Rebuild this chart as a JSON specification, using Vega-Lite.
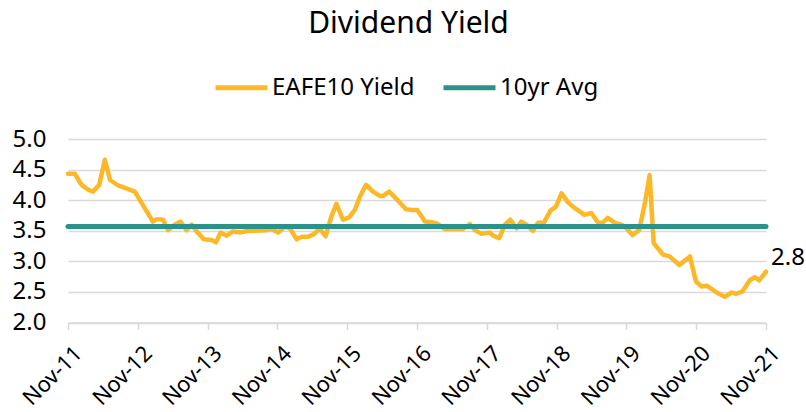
{
  "$schema": "https://vega.github.io/schema/vega-lite/v6.json",
  "width": 698,
  "height": 183.5,
  "autosize": {"type": "none"},
  "padding": {"left": 68, "top": 139, "right": 40, "bottom": 89.5},
  "background": "white",
  "title": {
    "text": "Dividend Yield",
    "fontSize": 30,
    "fontWeight": "normal",
    "font": "Noto Sans",
    "color": "#000000",
    "anchor": "middle",
    "frame": "bounds",
    "offset": 20
  },
  "config": {
    "font": "Noto Sans",
    "view": {"stroke": null},
    "axis": {"labelFont": "Noto Sans", "labelColor": "#000000", "title": null}
  },
  "datasets": {
    "series": [
      {"date": "2011-11-01", "value": 4.43, "s": "EAFE10 Yield"},
      {"date": "2011-12-07", "value": 4.43, "s": "EAFE10 Yield"},
      {"date": "2012-01-11", "value": 4.25, "s": "EAFE10 Yield"},
      {"date": "2012-02-15", "value": 4.17, "s": "EAFE10 Yield"},
      {"date": "2012-03-11", "value": 4.14, "s": "EAFE10 Yield"},
      {"date": "2012-04-12", "value": 4.25, "s": "EAFE10 Yield"},
      {"date": "2012-05-12", "value": 4.66, "s": "EAFE10 Yield"},
      {"date": "2012-06-08", "value": 4.33, "s": "EAFE10 Yield"},
      {"date": "2012-07-20", "value": 4.24, "s": "EAFE10 Yield"},
      {"date": "2012-10-16", "value": 4.14, "s": "EAFE10 Yield"},
      {"date": "2012-11-21", "value": 3.95, "s": "EAFE10 Yield"},
      {"date": "2013-01-18", "value": 3.65, "s": "EAFE10 Yield"},
      {"date": "2013-02-08", "value": 3.69, "s": "EAFE10 Yield"},
      {"date": "2013-03-12", "value": 3.68, "s": "EAFE10 Yield"},
      {"date": "2013-04-08", "value": 3.51, "s": "EAFE10 Yield"},
      {"date": "2013-05-12", "value": 3.6, "s": "EAFE10 Yield"},
      {"date": "2013-06-12", "value": 3.65, "s": "EAFE10 Yield"},
      {"date": "2013-07-13", "value": 3.51, "s": "EAFE10 Yield"},
      {"date": "2013-08-09", "value": 3.6, "s": "EAFE10 Yield"},
      {"date": "2013-09-04", "value": 3.49, "s": "EAFE10 Yield"},
      {"date": "2013-10-12", "value": 3.36, "s": "EAFE10 Yield"},
      {"date": "2013-11-22", "value": 3.35, "s": "EAFE10 Yield"},
      {"date": "2013-12-14", "value": 3.31, "s": "EAFE10 Yield"},
      {"date": "2014-01-08", "value": 3.47, "s": "EAFE10 Yield"},
      {"date": "2014-02-09", "value": 3.42, "s": "EAFE10 Yield"},
      {"date": "2014-03-13", "value": 3.49, "s": "EAFE10 Yield"},
      {"date": "2014-04-18", "value": 3.47, "s": "EAFE10 Yield"},
      {"date": "2014-06-01", "value": 3.5, "s": "EAFE10 Yield"},
      {"date": "2014-07-14", "value": 3.5, "s": "EAFE10 Yield"},
      {"date": "2014-09-05", "value": 3.51, "s": "EAFE10 Yield"},
      {"date": "2014-10-01", "value": 3.53, "s": "EAFE10 Yield"},
      {"date": "2014-11-05", "value": 3.47, "s": "EAFE10 Yield"},
      {"date": "2014-12-10", "value": 3.57, "s": "EAFE10 Yield"},
      {"date": "2015-01-05", "value": 3.54, "s": "EAFE10 Yield"},
      {"date": "2015-02-10", "value": 3.36, "s": "EAFE10 Yield"},
      {"date": "2015-03-06", "value": 3.4, "s": "EAFE10 Yield"},
      {"date": "2015-04-10", "value": 3.4, "s": "EAFE10 Yield"},
      {"date": "2015-05-14", "value": 3.45, "s": "EAFE10 Yield"},
      {"date": "2015-06-10", "value": 3.54, "s": "EAFE10 Yield"},
      {"date": "2015-07-11", "value": 3.41, "s": "EAFE10 Yield"},
      {"date": "2015-08-10", "value": 3.73, "s": "EAFE10 Yield"},
      {"date": "2015-09-06", "value": 3.94, "s": "EAFE10 Yield"},
      {"date": "2015-10-10", "value": 3.68, "s": "EAFE10 Yield"},
      {"date": "2015-11-11", "value": 3.72, "s": "EAFE10 Yield"},
      {"date": "2015-12-11", "value": 3.84, "s": "EAFE10 Yield"},
      {"date": "2016-01-07", "value": 4.06, "s": "EAFE10 Yield"},
      {"date": "2016-02-08", "value": 4.25, "s": "EAFE10 Yield"},
      {"date": "2016-03-15", "value": 4.14, "s": "EAFE10 Yield"},
      {"date": "2016-04-20", "value": 4.07, "s": "EAFE10 Yield"},
      {"date": "2016-05-07", "value": 4.07, "s": "EAFE10 Yield"},
      {"date": "2016-06-08", "value": 4.14, "s": "EAFE10 Yield"},
      {"date": "2016-07-16", "value": 4.02, "s": "EAFE10 Yield"},
      {"date": "2016-09-04", "value": 3.85, "s": "EAFE10 Yield"},
      {"date": "2016-10-03", "value": 3.84, "s": "EAFE10 Yield"},
      {"date": "2016-11-02", "value": 3.84, "s": "EAFE10 Yield"},
      {"date": "2016-12-12", "value": 3.65, "s": "EAFE10 Yield"},
      {"date": "2017-01-16", "value": 3.64, "s": "EAFE10 Yield"},
      {"date": "2017-02-12", "value": 3.62, "s": "EAFE10 Yield"},
      {"date": "2017-03-25", "value": 3.53, "s": "EAFE10 Yield"},
      {"date": "2017-05-08", "value": 3.53, "s": "EAFE10 Yield"},
      {"date": "2017-06-30", "value": 3.53, "s": "EAFE10 Yield"},
      {"date": "2017-08-04", "value": 3.61, "s": "EAFE10 Yield"},
      {"date": "2017-08-30", "value": 3.51, "s": "EAFE10 Yield"},
      {"date": "2017-10-04", "value": 3.45, "s": "EAFE10 Yield"},
      {"date": "2017-11-17", "value": 3.47, "s": "EAFE10 Yield"},
      {"date": "2017-12-04", "value": 3.42, "s": "EAFE10 Yield"},
      {"date": "2018-01-05", "value": 3.38, "s": "EAFE10 Yield"},
      {"date": "2018-02-04", "value": 3.6, "s": "EAFE10 Yield"},
      {"date": "2018-03-04", "value": 3.68, "s": "EAFE10 Yield"},
      {"date": "2018-04-05", "value": 3.54, "s": "EAFE10 Yield"},
      {"date": "2018-04-30", "value": 3.65, "s": "EAFE10 Yield"},
      {"date": "2018-05-27", "value": 3.6, "s": "EAFE10 Yield"},
      {"date": "2018-06-30", "value": 3.5, "s": "EAFE10 Yield"},
      {"date": "2018-07-27", "value": 3.63, "s": "EAFE10 Yield"},
      {"date": "2018-08-26", "value": 3.63, "s": "EAFE10 Yield"},
      {"date": "2018-09-30", "value": 3.83, "s": "EAFE10 Yield"},
      {"date": "2018-10-28", "value": 3.89, "s": "EAFE10 Yield"},
      {"date": "2018-11-27", "value": 4.11, "s": "EAFE10 Yield"},
      {"date": "2019-01-01", "value": 3.96, "s": "EAFE10 Yield"},
      {"date": "2019-02-05", "value": 3.87, "s": "EAFE10 Yield"},
      {"date": "2019-03-27", "value": 3.76, "s": "EAFE10 Yield"},
      {"date": "2019-05-02", "value": 3.79, "s": "EAFE10 Yield"},
      {"date": "2019-06-06", "value": 3.63, "s": "EAFE10 Yield"},
      {"date": "2019-06-29", "value": 3.63, "s": "EAFE10 Yield"},
      {"date": "2019-07-27", "value": 3.71, "s": "EAFE10 Yield"},
      {"date": "2019-09-02", "value": 3.63, "s": "EAFE10 Yield"},
      {"date": "2019-10-07", "value": 3.6, "s": "EAFE10 Yield"},
      {"date": "2019-10-24", "value": 3.57, "s": "EAFE10 Yield"},
      {"date": "2019-12-03", "value": 3.43, "s": "EAFE10 Yield"},
      {"date": "2020-01-07", "value": 3.51, "s": "EAFE10 Yield"},
      {"date": "2020-02-06", "value": 3.95, "s": "EAFE10 Yield"},
      {"date": "2020-03-02", "value": 4.41, "s": "EAFE10 Yield"},
      {"date": "2020-03-23", "value": 3.3, "s": "EAFE10 Yield"},
      {"date": "2020-05-11", "value": 3.11, "s": "EAFE10 Yield"},
      {"date": "2020-06-15", "value": 3.08, "s": "EAFE10 Yield"},
      {"date": "2020-08-04", "value": 2.94, "s": "EAFE10 Yield"},
      {"date": "2020-09-29", "value": 3.08, "s": "EAFE10 Yield"},
      {"date": "2020-10-30", "value": 2.67, "s": "EAFE10 Yield"},
      {"date": "2020-11-29", "value": 2.59, "s": "EAFE10 Yield"},
      {"date": "2020-12-28", "value": 2.6, "s": "EAFE10 Yield"},
      {"date": "2021-02-16", "value": 2.49, "s": "EAFE10 Yield"},
      {"date": "2021-03-30", "value": 2.42, "s": "EAFE10 Yield"},
      {"date": "2021-05-04", "value": 2.49, "s": "EAFE10 Yield"},
      {"date": "2021-05-30", "value": 2.47, "s": "EAFE10 Yield"},
      {"date": "2021-07-01", "value": 2.51, "s": "EAFE10 Yield"},
      {"date": "2021-08-08", "value": 2.69, "s": "EAFE10 Yield"},
      {"date": "2021-09-04", "value": 2.74, "s": "EAFE10 Yield"},
      {"date": "2021-09-26", "value": 2.69, "s": "EAFE10 Yield"},
      {"date": "2021-11-01", "value": 2.83, "s": "EAFE10 Yield", "label": "2.8"},
      {"date": "2011-11-01", "value": 3.57, "s": "10yr Avg"},
      {"date": "2021-11-01", "value": 3.57, "s": "10yr Avg"}
    ]
  },
  "data": {"name": "series"},
  "encoding": {
    "x": {
      "field": "date",
      "type": "temporal",
      "scale": {
        "type": "utc",
        "domain": [
          {"year": 2011, "month": 11, "date": 1, "utc": true},
          {"year": 2021, "month": 11, "date": 1, "utc": true}
        ],
        "nice": false
      },
      "axis": {
        "values": [
          {"year": 2011, "month": 11, "date": 1, "utc": true},
          {"year": 2012, "month": 11, "date": 1, "utc": true},
          {"year": 2013, "month": 11, "date": 1, "utc": true},
          {"year": 2014, "month": 11, "date": 1, "utc": true},
          {"year": 2015, "month": 11, "date": 1, "utc": true},
          {"year": 2016, "month": 11, "date": 1, "utc": true},
          {"year": 2017, "month": 11, "date": 1, "utc": true},
          {"year": 2018, "month": 11, "date": 1, "utc": true},
          {"year": 2019, "month": 11, "date": 1, "utc": true},
          {"year": 2020, "month": 11, "date": 1, "utc": true},
          {"year": 2021, "month": 11, "date": 1, "utc": true}
        ],
        "format": "%b-%y",
        "labelAngle": -45,
        "labelAlign": "right",
        "labelBaseline": "middle",
        "labelFontSize": 22,
        "labelPadding": 20,
        "labelOffset": 10,
        "grid": false,
        "domain": true,
        "domainColor": "#d9d9d9",
        "domainWidth": 1.5,
        "ticks": true,
        "tickColor": "#d9d9d9",
        "tickWidth": 1.5,
        "tickSize": 7,
        "labelOverlap": false,
        "labelBound": false,
        "labelFlush": false
      }
    },
    "y": {
      "field": "value",
      "type": "quantitative",
      "scale": {"domain": [2, 5], "nice": false, "zero": false},
      "axis": {
        "values": [2, 2.5, 3, 3.5, 4, 4.5, 5],
        "format": ".1f",
        "labelFontSize": 24,
        "labelPadding": 22,
        "domain": false,
        "ticks": false,
        "grid": true,
        "gridColor": "#d9d9d9",
        "gridWidth": 1.5
      }
    }
  },
  "layer": [
    {
      "transform": [{"filter": "datum.s == 'EAFE10 Yield'"}],
      "mark": {"type": "line", "strokeWidth": 4.5, "strokeJoin": "round", "strokeCap": "round"},
      "encoding": {
        "color": {
          "field": "s",
          "type": "nominal",
          "scale": {"domain": ["EAFE10 Yield", "10yr Avg"], "range": ["#FDB827", "#2A9288"]},
          "legend": {
            "orient": "none",
            "direction": "horizontal",
            "legendX": 145,
            "legendY": -80,
            "title": null,
            "symbolType": "stroke",
            "symbolSize": 2704,
            "symbolStrokeWidth": 5,
            "labelFontSize": 24,
            "labelFont": "Noto Sans",
            "labelColor": "#000000",
            "labelOffset": 2,
            "columnPadding": 18,
            "padding": 0
          }
        }
      }
    },
    {
      "transform": [{"filter": "datum.s == '10yr Avg'"}],
      "mark": {"type": "line", "strokeWidth": 5, "strokeCap": "round"},
      "encoding": {
        "color": {"field": "s", "type": "nominal"}
      }
    },
    {
      "transform": [{"filter": "datum.label != null"}],
      "mark": {"type": "text", "align": "left", "baseline": "middle", "dx": 5, "dy": -14, "fontSize": 24, "font": "Noto Sans", "color": "#000000"},
      "encoding": {
        "text": {"field": "label", "type": "nominal"}
      }
    }
  ]
}
